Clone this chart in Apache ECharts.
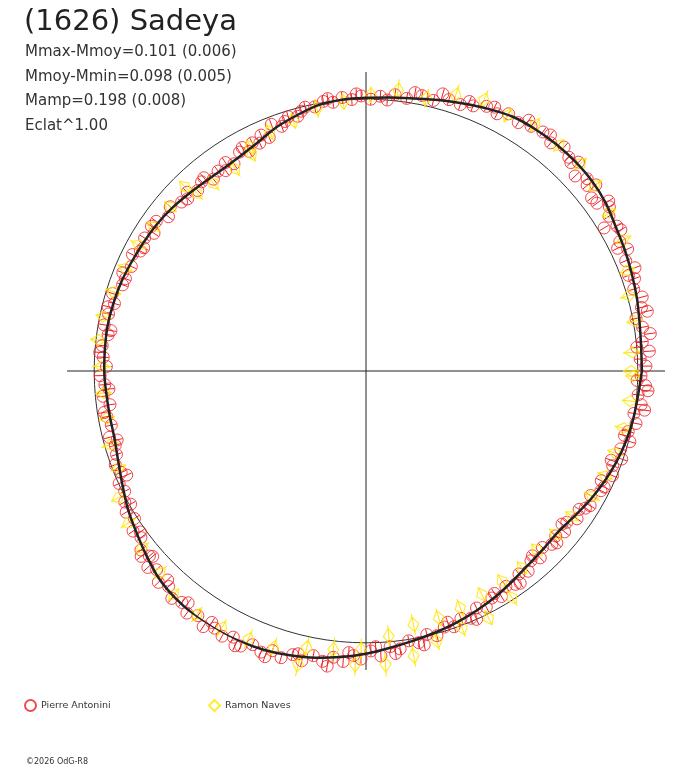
<!DOCTYPE html>
<html>
<head>
<meta charset="utf-8">
<title>(1626) Sadeya</title>
<script src="https://cdn.jsdelivr.net/npm/echarts@6/dist/echarts.min.js"></script>
<style>
  html, body { margin: 0; padding: 0; background: #fff; }
  #main { width: 688px; height: 768px; }
</style>
</head>
<body>
<div id="main"></div>
<script>
var titleText = '(1626) Sadeya';
var statLines = ['Mmax-Mmoy=0.101 (0.006)', 'Mmoy-Mmin=0.098 (0.005)', 'Mamp=0.198 (0.008)', 'Eclat^1.00'];
var observers = ['Pierre Antonini', 'Ramon Naves'];
var footer = '\u00a92026 OdG-R8';

// fitted curve, [phase angle in deg, relative radius]
var fitCurve = [
  [0, 1.015], [5, 1.016], [10, 1.022], [15, 1.032], [20, 1.041], [25, 1.051], [30, 1.061], [35, 1.077],
  [40, 1.086], [45, 1.089], [50, 1.089], [55, 1.086], [60, 1.080], [65, 1.064], [70, 1.047], [75, 1.032],
  [80, 1.018], [85, 1.010], [90, 1.005], [95, 1.002], [100, 0.994], [105, 0.975], [110, 0.956], [115, 0.932],
  [120, 0.917], [125, 0.911], [130, 0.914], [135, 0.922], [140, 0.932], [145, 0.940], [150, 0.945], [155, 0.951],
  [160, 0.958], [165, 0.962], [170, 0.965], [175, 0.964], [180, 0.963], [185, 0.959], [190, 0.957], [195, 0.958],
  [200, 0.970], [205, 0.989], [210, 1.012], [215, 1.032], [220, 1.055], [225, 1.078], [230, 1.091], [235, 1.098],
  [240, 1.100], [245, 1.098], [250, 1.092], [255, 1.083], [260, 1.071], [265, 1.056], [270, 1.040], [275, 1.022],
  [280, 1.007], [285, 0.995], [290, 0.983], [295, 0.970], [300, 0.957], [305, 0.942], [310, 0.930], [315, 0.924],
  [320, 0.922], [325, 0.934], [330, 0.951], [335, 0.966], [340, 0.980], [345, 0.991], [350, 0.999], [355, 1.005],
  [360, 1.015]
];

// Pierre Antonini, [angle, radius]
var antoniniPts = [
  [1, 1.030], [2.5, 1.010], [4, 1.045], [6, 1.022], [7.5, 1.055], [9, 1.030], [11, 1.012], [13, 1.040],
  [15, 1.052], [17, 1.030], [19, 1.045], [21, 1.060], [23, 1.038], [25, 1.062], [27, 1.048], [29, 1.072],
  [31, 1.022], [32.5, 1.060], [34, 1.080], [36, 1.050], [37.5, 1.046], [39, 1.088], [41, 1.078], [43, 1.052],
  [44.5, 1.096], [46.5, 1.084], [48.5, 1.100], [51, 1.080], [53.5, 1.094], [56, 1.086], [58.5, 1.072], [61, 1.082],
  [63, 1.062], [65.5, 1.070], [68, 1.052], [70.5, 1.040], [73, 1.044], [76, 1.026], [78.5, 1.034], [81.5, 1.014],
  [84, 1.022], [87, 1.012], [89, 1.000],
  [5, 1.000], [12, 1.058], [20, 1.028], [26, 1.030], [30, 1.066], [35, 1.090], [40, 1.062], [45.5, 1.075],
  [52, 1.102], [57, 1.100], [64, 1.080], [69, 1.062], [74.5, 1.058], [80, 1.040], [85.5, 1.000],
  [91, 1.012], [93, 1.000], [95, 1.010], [97, 0.996], [99, 1.004], [101, 0.990], [103, 0.996], [105, 0.970],
  [107, 0.978], [109, 0.952], [111, 0.972], [112.5, 0.930], [114, 0.950], [116.5, 0.938], [118, 0.915], [120, 0.930],
  [122.5, 0.904], [124, 0.925], [126.5, 0.915], [128.5, 0.902], [131, 0.922], [133, 0.908], [135, 0.930], [137.5, 0.920],
  [140, 0.940], [142, 0.922], [144.5, 0.948], [147, 0.930], [149, 0.950], [151, 0.935], [153.5, 0.960], [156, 0.945],
  [158, 0.965], [160.5, 0.950], [163, 0.975], [165, 0.958], [167.5, 0.970], [170, 0.978], [172, 0.958], [174.5, 0.975],
  [177, 0.968], [179, 0.955],
  [92, 1.020], [98, 1.012], [104, 0.985], [108, 0.965], [115, 0.925], [119, 0.940], [125, 0.900], [130, 0.928],
  [136, 0.912], [146, 0.952], [152, 0.940], [159, 0.948], [166, 0.978], [171, 0.950], [176, 0.982],
  [181, 0.978], [183, 0.962], [185.5, 0.972], [187.5, 0.950], [190, 0.968], [192, 0.958], [194.5, 0.975], [196.5, 0.962],
  [198.5, 0.968], [200.5, 0.985], [202.5, 0.975], [204.5, 0.998], [206.5, 0.992], [208.5, 1.010], [210.5, 1.024], [212.5, 1.010],
  [214.5, 1.040], [216.5, 1.030], [218.5, 1.058], [220.5, 1.048], [222, 1.080], [223.5, 1.062], [225.5, 1.090], [227.5, 1.075],
  [229.5, 1.100], [231.5, 1.088], [233.5, 1.108], [235.5, 1.092], [237.5, 1.115], [239.5, 1.098], [241.5, 1.110], [243.5, 1.094],
  [245.5, 1.112], [247.5, 1.090], [249.5, 1.104], [251.5, 1.085], [253.5, 1.100], [255.5, 1.078], [257.5, 1.092], [259.5, 1.065],
  [261.5, 1.080], [263.5, 1.060], [265.5, 1.072], [267.5, 1.048], [269, 1.060],
  [184, 0.948], [189, 0.975], [195.5, 0.950], [203.5, 0.960], [209.5, 0.995], [215.5, 1.020], [219.5, 1.072], [221, 1.040],
  [226.5, 1.060], [232.5, 1.075], [238.5, 1.085], [244.5, 1.120], [250.5, 1.115], [256.5, 1.070], [262.5, 1.095], [266.5, 1.038],
  [271, 1.030], [273, 1.050], [275, 1.018], [277, 1.030], [279, 1.005], [281, 1.018], [283, 0.995], [285, 1.008],
  [287, 0.985], [289, 0.995], [291, 0.975], [293, 0.988], [295, 0.962], [297, 0.975], [299, 0.955], [301, 0.968],
  [303, 0.945], [305, 0.958], [307, 0.935], [309, 0.948], [311, 0.925], [313, 0.940], [315, 0.918], [317, 0.935],
  [319, 0.925], [321, 0.940], [323, 0.925], [325, 0.948], [327, 0.935], [329, 0.962], [331, 0.945], [333, 0.970],
  [335, 0.955], [337, 0.985], [339, 0.972], [341, 0.995], [343, 0.980], [345, 1.005], [347, 0.990], [349, 1.012],
  [351, 0.998], [353, 1.020], [355, 1.005], [357, 1.030], [359, 1.012],
  [272, 1.015], [276, 1.045], [282, 1.030], [288, 0.972], [294, 1.000], [300, 0.945], [306, 0.965], [312, 0.915],
  [318, 0.945], [322, 0.915], [328, 0.952], [334, 0.975], [340, 0.960], [346, 0.980], [352, 1.035], [356, 1.040],
  [358, 0.998]
];
var antoniniErr = 0.02;

// Ramon Naves, [angle, radius, error]
var navesPts = [
  [0, 0.975, 0.03], [4, 0.982, 0.035], [10.5, 1.005, 0.03], [16, 1.006, 0.035], [21, 1.030, 0.03], [27, 1.062, 0.035],
  [33, 1.066, 0.03], [39, 1.084, 0.035], [44, 1.098, 0.03], [49.5, 1.092, 0.03], [55.5, 1.098, 0.035], [61, 1.076, 0.03],
  [66.5, 1.088, 0.04], [72, 1.068, 0.04], [77.5, 1.028, 0.035], [83.5, 1.040, 0.04], [89, 1.016, 0.03],
  [94.8, 0.994, 0.03], [100.6, 0.983, 0.035], [106.2, 0.958, 0.03], [111.9, 0.948, 0.035], [117.3, 0.928, 0.03],
  [117.8, 0.902, 0.03], [122.9, 0.887, 0.035], [129.1, 0.890, 0.035], [133.6, 0.902, 0.03], [134.5, 0.950, 0.03],
  [140, 0.940, 0.03], [145.8, 0.945, 0.03], [151, 0.957, 0.035], [156.9, 0.963, 0.03], [162.6, 0.974, 0.03],
  [168.3, 0.986, 0.03], [173.4, 0.991, 0.03], [179, 0.972, 0.035],
  [184.8, 0.969, 0.03], [190.3, 0.969, 0.03], [196.1, 0.979, 0.035], [201.4, 0.978, 0.03], [207.1, 1.023, 0.03],
  [212.6, 1.037, 0.035], [218.3, 1.050, 0.03], [224.4, 1.061, 0.035], [229.3, 1.085, 0.03], [235.2, 1.091, 0.035],
  [240.7, 1.084, 0.035], [246.3, 1.078, 0.04], [251.5, 1.074, 0.04], [257, 1.108, 0.045], [257.9, 1.041, 0.04],
  [263.3, 1.032, 0.045], [267.9, 1.081, 0.04], [269, 1.025, 0.04],
  [273.8, 1.082, 0.045], [274.9, 0.979, 0.04], [279.5, 1.063, 0.04], [280.6, 0.949, 0.04], [284.7, 1.027, 0.035],
  [286.4, 0.947, 0.035], [290.5, 1.009, 0.035], [291.7, 0.938, 0.035], [296.4, 1.014, 0.03], [297.4, 0.926, 0.03],
  [302.8, 0.992, 0.035], [302.9, 0.921, 0.03], [308.4, 0.924, 0.03], [313.7, 0.909, 0.03], [319.2, 0.920, 0.03],
  [324.8, 0.927, 0.03], [331, 0.950, 0.035], [336.3, 0.961, 0.03], [341.8, 0.965, 0.03], [347.5, 0.970, 0.035],
  [353.5, 0.978, 0.03], [358.9, 0.984, 0.03]
];

var red = '#ee1d23';
var yellow = '#ffe600';
var ink = '#222';

// polar series want [radius, angle]
function toPolar(list) {
  return list.map(function (p) { return [p[1], p[0]]; });
}

function errBar(params, api) {
  var r = api.value(0), a = api.value(1), e = api.value(2);
  var p1 = api.coord([r - e, a]);
  var p2 = api.coord([r + e, a]);
  return {
    type: 'line',
    shape: { x1: p1[0], y1: p1[1], x2: p2[0], y2: p2[1] },
    style: { stroke: api.visual('color'), lineWidth: 1 }
  };
}

var myChart = echarts.init(document.getElementById('main'));

var option = {
  animation: false,
  backgroundColor: '#fff',
  title: [
    {
      text: titleText, left: 24, top: 8, padding: 0,
      textStyle: { fontFamily: 'DejaVu Sans', fontSize: 29, fontWeight: 'normal', color: ink }
    },
    {
      text: statLines.join('\n'), left: 25, top: 40, padding: 0,
      textStyle: { fontFamily: 'DejaVu Sans', fontSize: 15, fontWeight: 'normal', color: '#333', lineHeight: 24.5 }
    },
    {
      text: footer, left: 26, top: 758, padding: 0,
      textStyle: { fontFamily: 'DejaVu Sans', fontSize: 8, fontWeight: 'normal', color: '#333' }
    }
  ],
  legend: [
    {
      data: [observers[0]], left: 24, top: 699, padding: 0, itemWidth: 11, itemHeight: 11,
      selectedMode: false,
      textStyle: { fontFamily: 'DejaVu Sans', fontSize: 9.5, color: '#333' }
    },
    {
      data: [observers[1]], left: 208, top: 699, padding: 0, itemWidth: 11, itemHeight: 11,
      selectedMode: false,
      textStyle: { fontFamily: 'DejaVu Sans', fontSize: 9.5, color: '#333' }
    }
  ],
  polar: { center: [366, 371], radius: 299 },
  angleAxis: {
    type: 'value', min: 0, max: 360, interval: 90, startAngle: 0, clockwise: false,
    axisLine: { show: false }, axisTick: { show: false }, axisLabel: { show: false },
    splitLine: { show: true, lineStyle: { color: ink, width: 1 } }
  },
  radiusAxis: {
    type: 'value', min: 0, max: 1.1, interval: 1,
    axisLine: { show: false }, axisTick: { show: false }, axisLabel: { show: false },
    splitLine: { show: true, lineStyle: { color: ['rgba(0,0,0,0)', '#333', 'rgba(0,0,0,0)'], width: 1 } }
  },
  series: [
    {
      name: observers[0], type: 'scatter', coordinateSystem: 'polar', clip: false,
      symbol: 'circle', symbolSize: 12,
      itemStyle: { color: 'rgba(0,0,0,0)', borderColor: red, borderWidth: 1 },
      data: toPolar(antoniniPts)
    },
    {
      name: observers[0], type: 'custom', coordinateSystem: 'polar', clip: false,
      renderItem: errBar, itemStyle: { color: red },
      data: antoniniPts.map(function (p) { return [p[1], p[0], antoniniErr]; })
    },
    {
      name: 'fit', type: 'line', coordinateSystem: 'polar', clip: false,
      symbol: 'none', smooth: 0.3,
      lineStyle: { color: ink, width: 2.5 },
      data: toPolar(fitCurve)
    },
    {
      name: observers[1], type: 'scatter', coordinateSystem: 'polar', clip: false,
      symbol: 'diamond', symbolSize: [11, 15],
      symbolRotate: function (val) { return val[1] - 90; },
      itemStyle: { color: 'rgba(0,0,0,0)', borderColor: yellow, borderWidth: 1.2 },
      data: toPolar(navesPts)
    },
    {
      name: observers[1], type: 'custom', coordinateSystem: 'polar', clip: false,
      renderItem: errBar, itemStyle: { color: yellow },
      data: navesPts.map(function (p) { return [p[1], p[0], p[2]]; })
    }
  ]
};

if (option && typeof option === 'object') {
  myChart.setOption(option, true);
}
</script>
</body>
</html>
